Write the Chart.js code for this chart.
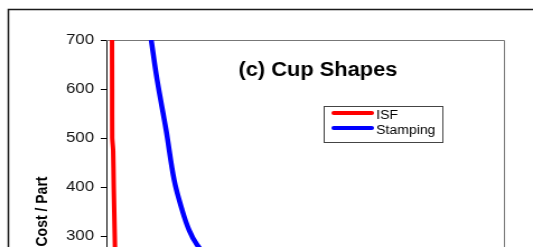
<!DOCTYPE html>
<html>
<head>
<meta charset="utf-8">
<script src="https://cdn.jsdelivr.net/npm/chart.js@4"></script>
<style>
    html, body { margin: 0; padding: 0; background: #fff; overflow: hidden; }
    #costChart { display: block; }
</style>
</head>
<body>
<!-- the reference looks stretched sideways, so the canvas is drawn narrow and scaled up -->
<canvas id="costChart" width="476" height="430" style="width:533px;height:430px"></canvas>
<script>
// data
const chartTitle = '(c) Cup Shapes';
const yTicks = [0, 100, 200, 300, 400, 500, 600, 700];

const isfVolume = [570, 580, 590, 680, 740, 790, 860, 910];
const isfCost = [700, 600, 500, 475, 400, 350, 280, 240];

const stampVolume = [4510, 5110, 6010, 6820, 7620, 8320, 9120, 10500, 13000];
const stampCost = [700, 618, 516, 414, 353, 312, 282, 250, 220];

function toPoints(xs, ys) {
    return xs.map(function (x, i) { return { x: x, y: ys[i] }; });
}

const framePlugin = {
    id: 'frame',
    beforeDraw: function (chart) {
        const c = chart.ctx;
        c.save();
        c.fillStyle = '#fff';
        c.fillRect(0, 0, chart.width, chart.height);
        c.strokeStyle = '#1a1a1a';
        c.lineWidth = 1.5;
        c.strokeRect(7.5, 9.5, chart.width + 20, chart.height + 20);
        c.restore();
    },
    beforeDatasetsDraw: function (chart) {
        const a = chart.chartArea;
        const c = chart.ctx;
        c.save();
        c.strokeStyle = '#777';
        c.lineWidth = 1;
        c.beginPath();
        c.moveTo(a.left, a.top + 0.5);
        c.lineTo(a.right + 0.5, a.top + 0.5);
        c.lineTo(a.right + 0.5, a.bottom);
        c.stroke();
        c.restore();
    },
    afterDraw: function (chart) {
        const a = chart.chartArea;
        const c = chart.ctx;
        c.save();
        // title inside the plot area
        c.fillStyle = '#000';
        c.font = 'bold 19.5px "Liberation Sans", Arial, sans-serif';
        c.textAlign = 'center';
        c.textBaseline = 'alphabetic';
        c.fillText(chartTitle, a.left + 189, a.top + 36);

        // legend box
        const bx = a.left + 194, by = a.top + 66, bw = 106, bh = 36;
        c.fillStyle = '#fff';
        c.fillRect(bx, by, bw, bh);
        c.strokeStyle = '#444';
        c.lineWidth = 1;
        c.strokeRect(bx + 0.5, by + 0.5, bw, bh);
        c.font = '12.5px "Liberation Sans", Arial, sans-serif';
        c.textAlign = 'left';
        chart.data.datasets.forEach(function (ds, i) {
            const ly = by + 7 + i * 15;
            c.strokeStyle = ds.borderColor;
            c.lineWidth = 4;
            c.lineCap = 'round';
            c.beginPath();
            c.moveTo(bx + 9, ly);
            c.lineTo(bx + 43, ly);
            c.stroke();
            c.fillStyle = '#000';
            c.fillText(ds.label, bx + 47, ly + 5.5);
        });
        c.restore();
    }
};

document.addEventListener('DOMContentLoaded', function () {
    const canvas = document.getElementById('costChart');
    const ctx = canvas.getContext('2d');

    new Chart(ctx, {
        type: 'line',
        data: {
            datasets: [{
                label: 'ISF',
                data: toPoints(isfVolume, isfCost),
                borderColor: '#ff0000',
                borderWidth: 4,
                pointRadius: 0,
                tension: 0.2
            }, {
                label: 'Stamping',
                data: toPoints(stampVolume, stampCost),
                borderColor: '#0000ff',
                borderWidth: 4.5,
                pointRadius: 0,
                tension: 0.35
            }]
        },
        options: {
            responsive: false,
            animation: false,
            layout: {
                padding: { left: 0, top: 40, right: 24, bottom: 7 }
            },
            scales: {
                x: {
                    type: 'linear',
                    min: 0,
                    max: 40000,
                    grid: { drawOnChartArea: false, color: '#000', tickLength: 5 },
                    border: { color: '#000' },
                    ticks: {
                        stepSize: 10000,
                        color: '#000',
                        font: { family: '"Liberation Sans", Arial', size: 15 }
                    },
                    afterFit: function (s) { s.height = 40; }
                },
                y: {
                    min: 0,
                    max: 700,
                    afterBuildTicks: function (s) {
                        s.ticks = yTicks.map(function (v) { return { value: v }; });
                    },
                    grid: { drawOnChartArea: false, color: '#000', tickLength: 5 },
                    border: { color: '#000', width: 1 },
                    ticks: {
                        padding: 6,
                        color: '#111',
                        font: { family: '"Liberation Sans", Arial', size: 15 }
                    },
                    title: {
                        display: true,
                        text: 'Cost / Part',
                        color: '#000',
                        padding: { top: 30, bottom: 0 },
                        font: { family: '"Liberation Sans", Arial', size: 14, weight: 'bold' }
                    },
                    afterFit: function (s) { s.width = 95; }
                }
            },
            plugins: {
                legend: { display: false },
                tooltip: { enabled: false }
            }
        },
        plugins: [framePlugin]
    });
});
</script>
</body>
</html>
